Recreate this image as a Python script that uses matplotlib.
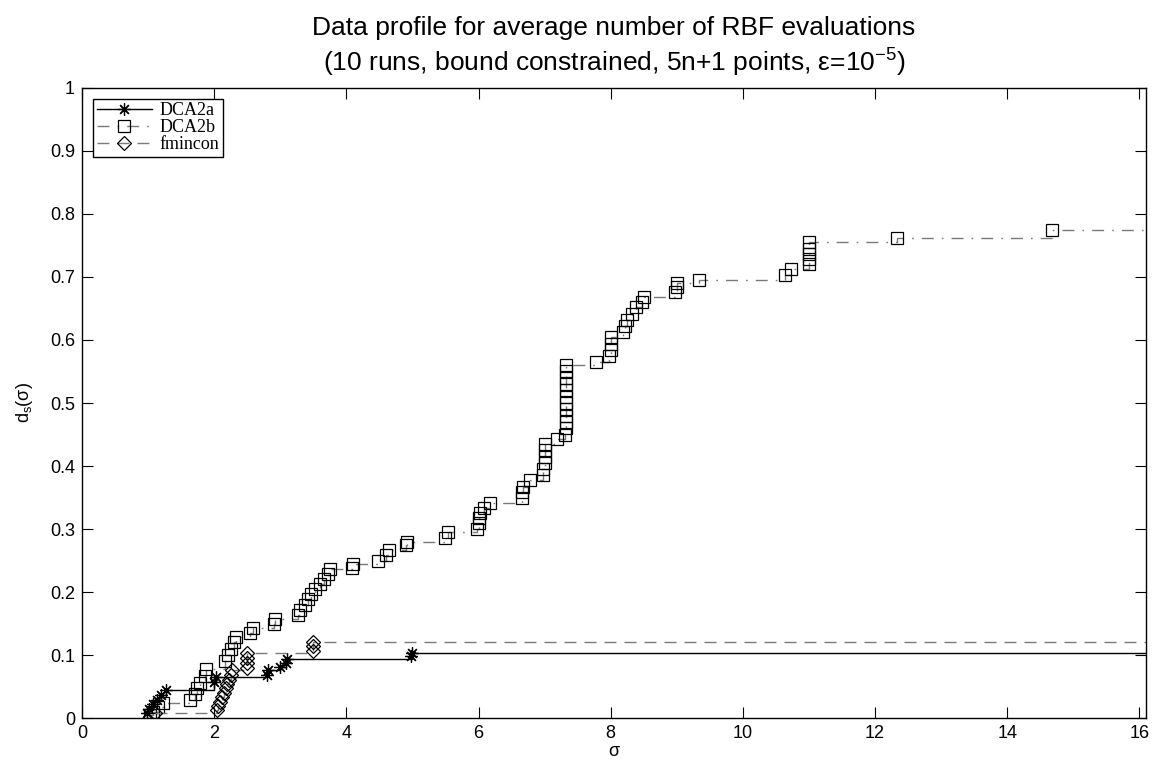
import numpy as np
import matplotlib
matplotlib.use('Agg')
import matplotlib.pyplot as plt

plt.rcParams['font.family'] = ['Liberation Sans', 'DejaVu Sans']
plt.rcParams['mathtext.default'] = 'regular'

# data profile d_s(sigma), one stair per solver
x_dca2a = [0.99, 1.02, 1.07, 1.13, 1.20, 1.27, 2.00, 2.02, 2.80, 2.82, 3.00, 3.08, 3.10, 4.98, 5.00]
y_dca2a = [0.008, 0.015, 0.022, 0.029, 0.036, 0.045, 0.057, 0.065, 0.069, 0.076, 0.081, 0.087, 0.093, 0.098, 0.103]

x_dca2b = [1.03, 1.08, 1.15, 1.23, 1.63, 1.71, 1.74, 1.79, 1.86, 1.88,
           2.16, 2.21, 2.26, 2.30, 2.33, 2.54, 2.58, 2.90, 2.92,
           3.27, 3.30, 3.37, 3.42, 3.47, 3.52, 3.60, 3.66, 3.72, 3.75,
           4.08, 4.10, 4.48, 4.60, 4.65, 4.90, 4.92, 5.49, 5.53,
           5.98, 6.00, 6.00, 6.02, 6.08, 6.18, 6.65, 6.66, 6.67, 6.78,
           6.98, 6.98, 7.00, 7.00, 7.00, 7.00, 7.18,
           7.31, 7.33, 7.33, 7.33, 7.33, 7.33, 7.33, 7.33, 7.33, 7.33, 7.33, 7.33,
           7.78, 7.98, 8.00, 8.00, 8.00, 8.18, 8.22, 8.25, 8.32, 8.38, 8.48, 8.50,
           8.98, 9.00, 9.00, 9.33, 10.64, 10.73, 11.00, 11.00, 11.00, 11.00, 11.00,
           12.33, 14.67]
y_dca2b = [0.005, 0.010, 0.018, 0.024, 0.029, 0.038, 0.047, 0.055, 0.067, 0.078,
           0.090, 0.100, 0.110, 0.120, 0.128, 0.135, 0.143, 0.150, 0.157,
           0.164, 0.172, 0.180, 0.189, 0.197, 0.205, 0.213, 0.221, 0.229, 0.236,
           0.238, 0.245, 0.250, 0.258, 0.266, 0.274, 0.280, 0.286, 0.295,
           0.300, 0.310, 0.318, 0.326, 0.334, 0.342, 0.350, 0.358, 0.366, 0.378,
           0.385, 0.395, 0.405, 0.415, 0.425, 0.435, 0.443,
           0.450, 0.460, 0.470, 0.480, 0.490, 0.500, 0.510, 0.520, 0.530, 0.540, 0.550, 0.560,
           0.565, 0.574, 0.584, 0.594, 0.604, 0.612, 0.622, 0.632, 0.642, 0.652, 0.660, 0.668,
           0.676, 0.684, 0.690, 0.695, 0.703, 0.712, 0.720, 0.728, 0.736, 0.744, 0.756,
           0.762, 0.775]

x_fmincon = [1.10, 2.04, 2.06, 2.09, 2.12, 2.15, 2.18, 2.20, 2.23, 2.25, 2.27,
             2.50, 2.50, 2.50, 2.50, 3.50, 3.50, 3.50]
y_fmincon = [0.0085, 0.012, 0.019, 0.026, 0.033, 0.040, 0.047, 0.054, 0.061, 0.068, 0.076,
             0.080, 0.088, 0.095, 0.103, 0.107, 0.114, 0.121]

x_max = 16.1

fig = plt.figure(figsize=(11.59, 7.71), dpi=100)
ax = fig.add_axes([0.0708, 0.0687, 0.918, 0.8172])

def stairs(x, y, **kw):
    # extend the last level to the right edge, no marker there
    xs = list(x) + [x_max]
    ys = list(y) + [y[-1]]
    return ax.plot(xs, ys, drawstyle='steps-post', markevery=slice(0, len(x)),
                   markerfacecolor='none', markeredgecolor='black', **kw)

stairs(x_dca2a, y_dca2a, color='black', linestyle='-', linewidth=1.0,
       marker=(8, 2, 0), markersize=9, markeredgewidth=0.9, label='DCA2a')
stairs(x_dca2b, y_dca2b, color='#7a7a7a', linestyle=(0, (8.6, 5.8, 1.2, 5.8)), linewidth=1.0,
       marker='s', markersize=8.5, markeredgewidth=0.9, label='DCA2b')
stairs(x_fmincon, y_fmincon, color='#7a7a7a', linestyle=(0, (8.6, 5.8)), linewidth=1.0,
       marker='D', markersize=7, markeredgewidth=0.9, label='fmincon')

ax.set_xlim(0, x_max)
ax.set_ylim(0, 1)
ax.set_xticks(np.arange(0, 17, 2))
yt = np.round(np.arange(0, 1.01, 0.1), 1)
ax.set_yticks(yt)
ax.set_yticklabels(['0'] + ['%.1f' % v for v in yt[1:-1]] + ['1'])
ax.tick_params(direction='in', length=8, width=0.8, top=True, right=True,
               labelsize=13)
ax.tick_params(axis='x', pad=5)
ax.tick_params(axis='y', pad=5)
for s in ax.spines.values():
    s.set_linewidth(1.0)

ax.set_xlabel('σ', fontsize=13, labelpad=1)
ax.set_ylabel('d$_s$(σ)', fontsize=13)
ax.yaxis.set_label_coords(-0.044, 0.5)
ax.set_title('Data profile for average number of RBF evaluations\n'
             '(10 runs, bound constrained, 5n+1 points, ε=10$^{-5}$)',
             fontsize=19, pad=12, linespacing=1.25)

leg = ax.legend(loc='upper left', prop={'family': 'Liberation Serif', 'size': 13},
                frameon=True, fancybox=False, framealpha=1, edgecolor='black',
                handlelength=3.1, handletextpad=0.4, labelspacing=0.0,
                borderpad=0.2, borderaxespad=0.6)
leg.get_frame().set_linewidth(1.0)

fig.savefig('out.png', dpi=100)
